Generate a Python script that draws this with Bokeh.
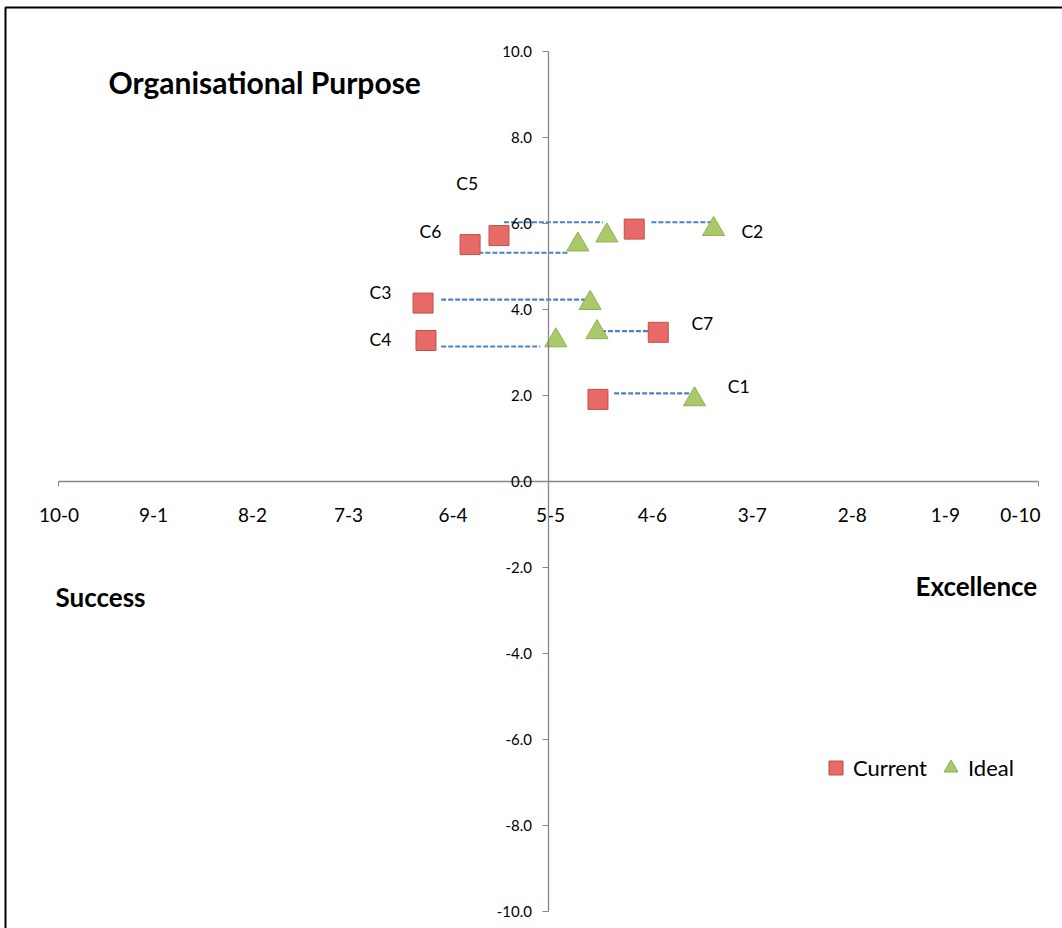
from bokeh.plotting import figure
from bokeh.models import (LinearAxis, FixedTicker, PrintfTickFormatter, Range1d,
                          Legend, LegendItem)
from bokeh.core.properties import value
from bokeh.embed import file_html
from bokeh.resources import INLINE

# ---- data -----------------------------------------------------------------
companies = ["C1", "C2", "C3", "C4", "C5", "C6", "C7"]
current_x = [1.02, 1.76, -2.55, -2.49, -1.00, -1.59, 2.25]
ideal_x = [2.99, 3.38, 0.86, 0.16, 1.20, 0.61, 1.00]
purpose_y = [1.90, 5.86, 4.14, 3.27, 5.71, 5.50, 3.46]

# dashed connectors showing the gap between current and ideal position
gap_y = [2.04, 6.02, 4.22, 3.13, 6.02, 5.31, 3.49]
gap_x0 = [1.35, 2.11, -2.18, -2.18, -0.90, -1.42, 1.08]
gap_x1 = [2.92, 3.39, 0.84, -0.16, 1.12, 0.40, 2.10]

# where each company name sits
label_x = [3.89, 4.17, -3.42, -3.42, -1.65, -2.40, 3.15]
label_y = [2.20, 5.81, 4.39, 3.29, 6.93, 5.81, 3.66]

# success / excellence split labels along the horizontal axis
split_labels = ["10-0", "9-1", "8-2", "7-3", "6-4", "5-5",
                "4-6", "3-7", "2-8", "1-9", "0-10"]
split_pos = [-9.98, -8.05, -6.03, -4.07, -1.94, 0.05,
             2.13, 4.17, 6.21, 8.11, 9.64]
y_ticks = [-10, -8, -6, -4, -2, 0, 2, 4, 6, 8, 10]

# ---- canvas geometry --------------------------------------------------------
W, H = 1062, 928
ORIGIN_X, ORIGIN_Y = 547.5, 480.6      # pixel position of (0, 0)
PX_X, PX_Y = 49.0, 43.0                # pixels per unit


def px_x(px):
    return (px - ORIGIN_X) / PX_X


def px_y(py):
    return (ORIGIN_Y - py) / PX_Y


FONT = "Lato"
AXIS_GREY = "#868686"

p = figure(width=W, height=H,
           x_range=Range1d(px_x(0), px_x(W)), y_range=Range1d(px_y(H), px_y(0)),
           x_axis_location=None, y_axis_location=None,
           output_backend="svg", toolbar_location=None, min_border=0,
           outline_line_color=None, background_fill_color="white",
           border_fill_color="white")
p.grid.visible = False

# vertical axis crossing at x = 0
yaxis = LinearAxis(fixed_location=0, bounds=(-10, 10),
                   ticker=FixedTicker(ticks=y_ticks, minor_ticks=[]),
                   formatter=PrintfTickFormatter(format="%.1f"),
                   axis_line_color=AXIS_GREY, axis_line_width=1.3,
                   major_tick_line_color=AXIS_GREY, major_tick_out=6, major_tick_in=0,
                   minor_tick_out=0, minor_tick_in=0,
                   major_label_standoff=10,
                   major_label_text_font=FONT, major_label_text_font_size="15px",
                   major_label_text_color="black")
p.add_layout(yaxis, "left")

# horizontal axis crossing at y = 0
xaxis = LinearAxis(fixed_location=0, bounds=(-10, 10),
                   ticker=FixedTicker(ticks=split_pos, minor_ticks=[-10, 10]),
                   major_label_overrides=dict(zip(split_pos, split_labels)),
                   axis_line_color=AXIS_GREY, axis_line_width=1.3,
                   major_tick_out=0, major_tick_in=0,
                   minor_tick_line_color=AXIS_GREY, minor_tick_out=5, minor_tick_in=0,
                   major_label_standoff=22,
                   major_label_text_font=FONT, major_label_text_font_size="19px",
                   major_label_text_color="black")
p.add_layout(xaxis, "below")

# chart border (left and top edges)
p.line([px_x(5), px_x(5), px_x(W + 5)], [px_y(H + 5), px_y(7), px_y(7)],
       line_color="black", line_width=2)

# gap connectors
p.segment(gap_x0, gap_y, gap_x1, gap_y, line_color="#4A82C8",
          line_width=2.2, line_dash="5 2")

current = p.scatter(current_x, purpose_y, marker="square", size=20,
                    fill_color="#E86A66", line_color="#C0504D", line_width=1)
ideal = p.scatter(ideal_x, purpose_y, marker="triangle", size=22,
                  fill_color="#A9C96A", line_color="#8DB04F", line_width=1)

p.text(label_x, label_y, text=companies, text_font=value(FONT),
       text_font_size="17.5px", text_align="center", text_baseline="middle",
       text_color="black")

# titles
p.text([px_x(108)], [px_y(81)], text=["Organisational Purpose"],
       text_font=value(FONT), text_font_style="bold", text_font_size="30px",
       text_align="left", text_baseline="middle", text_color="black")
p.text([px_x(55)], [px_y(596)], text=["Success"],
       text_font=value(FONT), text_font_style="bold", text_font_size="26px",
       text_align="left", text_baseline="middle", text_color="black")
p.text([px_x(915)], [px_y(585)], text=["Excellence"],
       text_font=value(FONT), text_font_style="bold", text_font_size="26px",
       text_align="left", text_baseline="middle", text_color="black")

legend = Legend(items=[LegendItem(label="Current", renderers=[current]),
                       LegendItem(label="Ideal", renderers=[ideal])],
                orientation="horizontal", location=(818, 143),
                glyph_width=35, glyph_height=35, label_standoff=0, spacing=6,
                padding=0, margin=0, border_line_color=None,
                background_fill_alpha=0, label_text_color="black",
                label_text_font=FONT, label_text_font_size="22px")
p.add_layout(legend, "center")

open("out.html", "w").write(file_html(p, INLINE))
